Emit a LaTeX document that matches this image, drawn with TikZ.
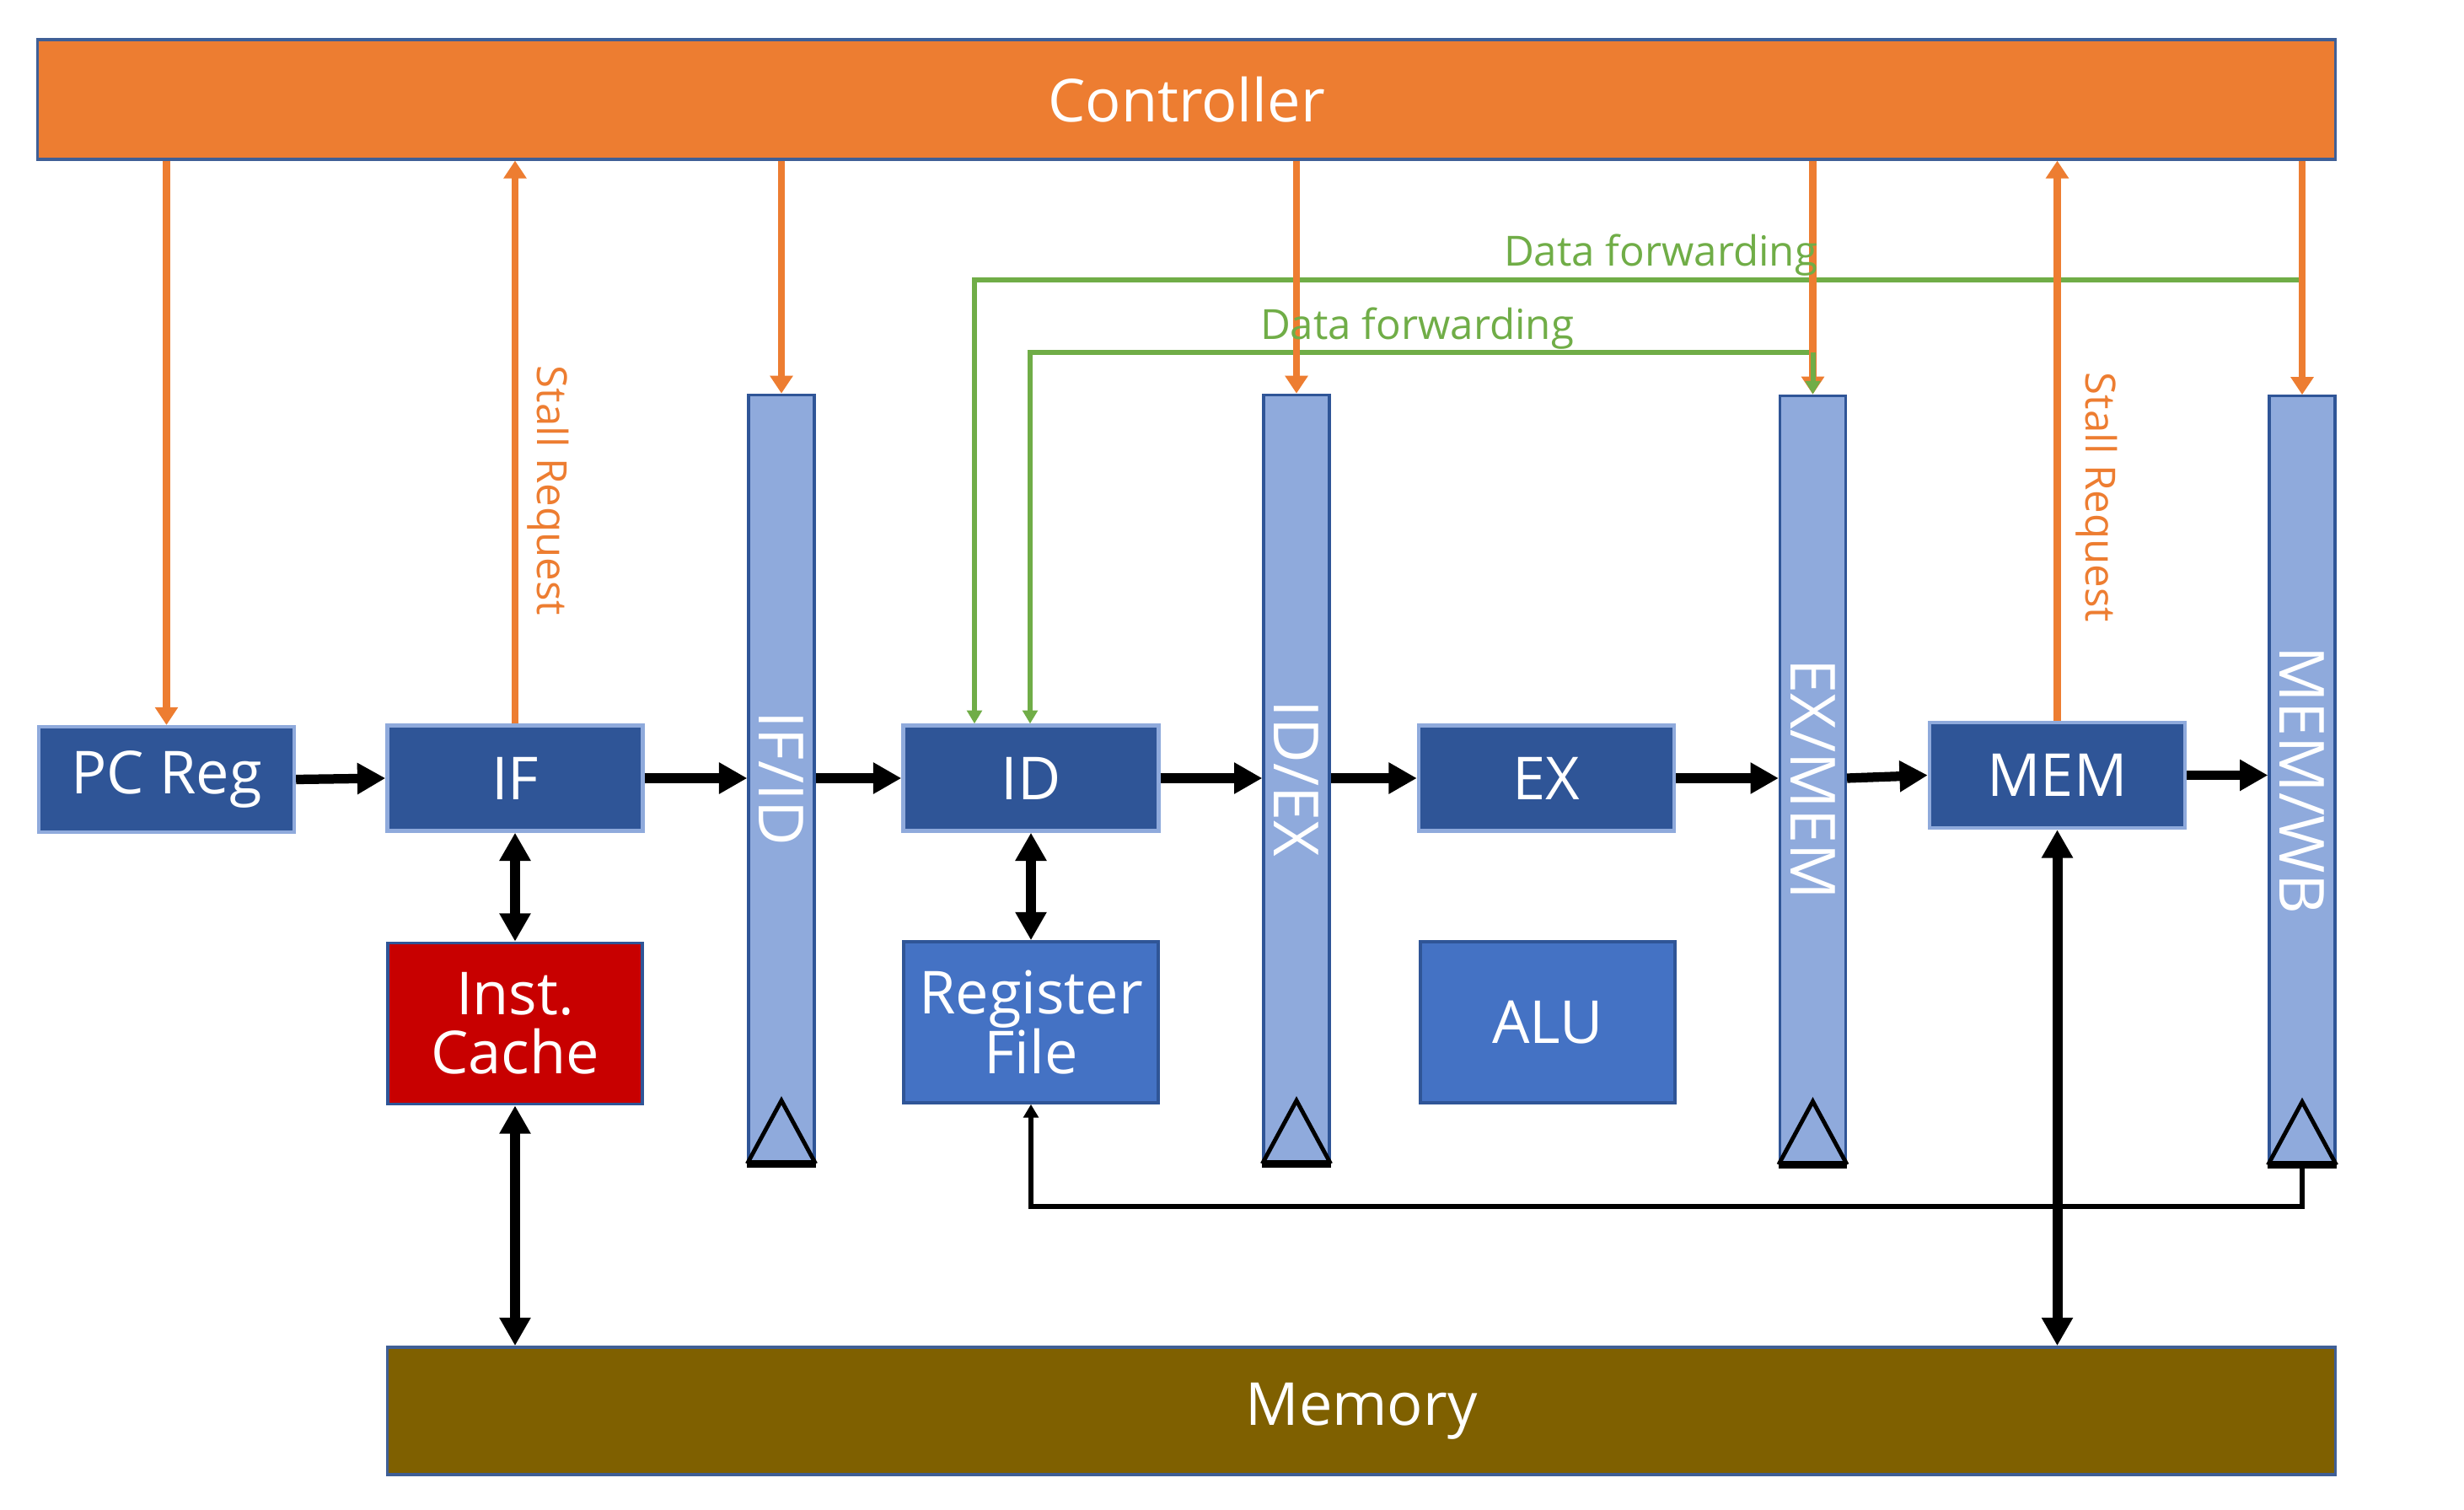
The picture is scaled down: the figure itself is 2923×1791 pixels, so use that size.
\documentclass[tikz,border=0pt]{standalone}
\usepackage{fontspec}
\setmainfont{Open Sans}
\usetikzlibrary{arrows.meta,calc}
\definecolor{corange}{HTML}{ED7D31}
\definecolor{cdark}{HTML}{2F5597}
\definecolor{clight}{HTML}{8FAADC}
\definecolor{cmid}{HTML}{4472C4}
\definecolor{cred}{HTML}{C80000}
\definecolor{cbrown}{HTML}{7F6000}
\definecolor{cgreen}{HTML}{70AD47}
\definecolor{cborder}{HTML}{3F5F96}
\begin{document}
\begin{tikzpicture}[x=0.01cm,y=-0.01cm,
  bigfont/.style={font=\fontsize{20}{20}\selectfont},
  ctrlbox/.style={draw=cborder, fill=corange, line width=0.9pt, text=white, bigfont,
    minimum width=27.25cm, minimum height=1.42cm, inner sep=0pt},
  blk/.style={draw=clight, fill=cdark, line width=1.2pt, text=white, bigfont,
    minimum width=3.03cm, minimum height=1.25cm, inner sep=0pt},
  sub/.style={draw=cdark, line width=1pt, text=white, bigfont, align=center,
    minimum width=3.02cm, minimum height=1.91cm, inner sep=0pt},
  memb/.style={draw=cborder, fill=cbrown, line width=1pt, text=white, bigfont,
    minimum width=23.1cm, minimum height=1.51cm, inner sep=0pt},
  bar/.style={draw=cdark, fill=clight, line width=0.9pt,
    minimum width=0.78cm, minimum height=9.1cm, inner sep=0pt},
  barlbl/.style={rotate=-90, text=white, font=\fontsize{21}{21}\selectfont, inner sep=0pt},
  clk/.style={draw=black, line width=1.4pt, line join=miter},
  pipe/.style={draw=black, line width=3.2pt, -{Triangle[length=9.5pt,width=10pt]}},
  bidir/.style={draw=black, line width=3.4pt, {Triangle[length=9.5pt,width=10pt]}-{Triangle[length=9.5pt,width=10pt]}},
  oarr/.style={draw=corange, line width=2.5pt, -{Triangle[length=6pt,width=7.5pt]}},
  fwd/.style={draw=cgreen, line width=1.7pt, -{Triangle[length=4.5pt,width=5pt]}},
  fwdline/.style={draw=cgreen, line width=1.7pt},
  wb/.style={draw=black, line width=1.7pt, -{Triangle[length=4.5pt,width=5pt]}},
  olbl/.style={text=corange, rotate=-90, font=\fontsize{14}{14}\selectfont, inner sep=0pt},
  glbl/.style={text=cgreen, font=\fontsize{14}{14}\selectfont, inner sep=0pt}
]
\useasboundingbox (0,0) rectangle (2923,1791);

% boxes
\node[ctrlbox] (ctrl) at (1407.5,118) {Controller};
\node[blk] (pc) at (197.5,924.5) {PC Reg};
\node[blk] (if) at (611,923) {IF};
\node[blk] (id) at (1223,923) {ID};
\node[blk] (ex) at (1834.5,923) {EX};
\node[blk] (mem) at (2440.5,919.5) {MEM};

\node[bar, label={[barlbl]center:IF/ID}] (b1) at (927,923.5) {};
\node[bar, label={[barlbl]center:ID/EX}] (b2) at (1538,923.5) {};
\node[bar, label={[barlbl]center:EX/MEM}] (b3) at (2150.5,924.5) {};
\node[bar, label={[barlbl]center:MEM/WB}] (b4) at (2731,925) {};

\node[sub, fill=cred] (ic) at (611,1214) {Inst.\\Cache};
\node[sub, fill=cmid] (rf) at (1223,1212.5) {Register\\File};
\node[sub, fill=cmid] (alu) at (1836,1212.5) {ALU};
\node[memb] (memory) at (1615,1673.5) {Memory};

% clock triangles
\foreach \b in {b1,b2,b3,b4}{
  \draw[clk] (\b.south west) -- ($(\b.south)+(0,-75)$) -- (\b.south east);
  \draw[black, line width=2.6pt] (\b.south west) -- (\b.south east);
}

% pipeline arrows
\draw[pipe] (pc.east) -- (if.west);
\draw[pipe] (if.east) -- (if.east -| b1.west);
\draw[pipe] (if.east -| b1.east) -- (id.west);
\draw[pipe] (id.east) -- (id.east -| b2.west);
\draw[pipe] (id.east -| b2.east) -- (ex.west);
\draw[pipe] (ex.east) -- (ex.east -| b3.west);
\draw[pipe] (ex.east -| b3.east) -- (mem.west);
\draw[pipe] (mem.east) -- (mem.east -| b4.west);

% bidirectional
\draw[bidir] (if.south) -- (ic.north);
\draw[bidir] (id.south) -- (rf.north);
\draw[bidir] (ic.south) -- (ic.south |- memory.north);
\draw[bidir] (mem.south) -- (mem.south |- memory.north);

% write back
\draw[wb] (b4.south) -- ++(0,49) -| (rf.south);

% forwarding (green)
\coordinate (fa) at (1156,332);
\coordinate (fb) at (1222,418);
\draw[fwd] (b4.north |- fa) -- (fa) -- (fa |- id.north);
\draw[fwd] (b3.north |- fb) -- (fb) -- (fb |- id.north);

% controller arrows
\draw[oarr] (ctrl.south -| pc.north) -- (pc.north);
\draw[oarr] (if.north) -- (if.north |- ctrl.south);
\draw[oarr] (ctrl.south -| b1.north) -- (b1.north);
\draw[oarr] (ctrl.south -| b2.north) -- (b2.north);
\draw[oarr] (ctrl.south -| b3.north) -- (b3.north);
\draw[oarr] (mem.north) -- (mem.north |- ctrl.south);
\draw[oarr] (ctrl.south -| b4.north) -- (b4.north);
\draw[fwd] (b3.north |- fb) -- (b3.north);

% labels
\node[olbl] (sr1) at (650,582) {Stall Request};
\node[olbl] (sr2) at (2487,590) {Stall Request};
\node[glbl] (df1) at (1970,303) {Data forwarding};
\node[glbl] (df2) at (1681,390) {Data forwarding};
\end{tikzpicture}
\end{document}
